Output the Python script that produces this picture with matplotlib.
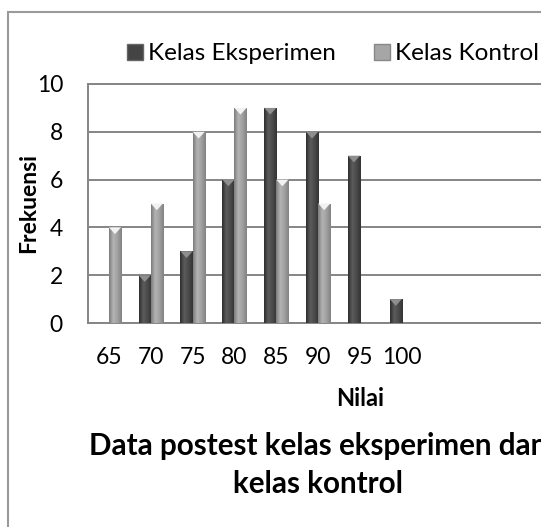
import numpy as np
import matplotlib
matplotlib.use("Agg")
import matplotlib.pyplot as plt
from matplotlib.patches import Rectangle, Polygon, Patch
from matplotlib.colors import LinearSegmentedColormap

plt.rcParams["font.family"] = ["Lato", "DejaVu Sans"]

categories = ["65", "70", "75", "80", "85", "90", "95", "100"]
eksperimen = [0, 2, 3, 6, 9, 8, 7, 1]
kontrol = [4, 5, 8, 9, 6, 5, 0, 0]
y_ticks = [0, 2, 4, 6, 8, 10]

W, H = 541, 527
fig = plt.figure(figsize=(W / 100, H / 100), dpi=100)

# chart area border (cropped on right and bottom)
fig.patches.append(Rectangle((8 / W, -0.1), 1.5, (H - 12) / H + 0.1,
                             transform=fig.transFigure, fill=False,
                             edgecolor="#9a9a9a", linewidth=1.5))

# plot area extends past the right edge of the picture
ax = fig.add_axes([88 / W, (H - 323) / H, (632 - 88) / W, (323 - 84) / H])

x = np.arange(len(categories))
bw = 0.29

cm_eks = LinearSegmentedColormap.from_list("eks", ["#2e2e2e", "#5c5c5c", "#4a4a4a", "#333333"])
cm_kon = LinearSegmentedColormap.from_list("kon", ["#7c7c7c", "#b4b4b4", "#a0a0a0", "#828282"])
grad = np.linspace(0, 1, 64).reshape(1, -1)


def draw_bars(xs, vals, cmap, cap_color):
    for xi, v in zip(xs, vals):
        if v <= 0:
            continue
        x0 = xi - bw / 2
        rect = Rectangle((x0, 0), bw, v, facecolor="none", edgecolor="none")
        ax.add_patch(rect)
        im = ax.imshow(grad, extent=[x0, x0 + bw, 0, v], aspect="auto",
                       cmap=cmap, zorder=3, interpolation="bilinear")
        im.set_clip_path(rect)
        cap = Polygon([[x0, v], [x0 + bw, v], [xi, v - 0.28]], closed=True,
                      facecolor=cap_color, edgecolor="none", zorder=4)
        ax.add_patch(cap)


draw_bars(x - bw / 2, eksperimen, cm_eks, "#8e8e8e")
draw_bars(x + bw / 2, kontrol, cm_kon, "#f2f2f2")

ax.set_xlim(-0.5, 12.5)
ax.set_ylim(0, 10)
ax.set_xticks(x)
ax.set_xticklabels(categories)
ax.set_yticks(y_ticks)
ax.tick_params(axis="both", length=0, labelsize=16.5, colors="black")
ax.tick_params(axis="x", pad=17)
ax.tick_params(axis="y", pad=18)
ax.yaxis.grid(True, color="#858585", linewidth=1.4)
ax.set_axisbelow(True)
for s in ["left", "top", "bottom", "right"]:
    ax.spines[s].set_color("#858585")
    ax.spines[s].set_linewidth(1.4)

handles = [Patch(facecolor="#444444", edgecolor="#666666", label="Kelas Eksperimen"),
           Patch(facecolor="#a6a6a6", edgecolor="#888888", label="Kelas Kontrol")]
fig.legend(handles=handles, loc="center", bbox_to_anchor=(333 / W, 1 - 54 / H),
           ncol=2, frameon=False, fontsize=17.5, handlelength=0.65, handleheight=0.65,
           handletextpad=0.2, columnspacing=1.6)

fig.text(29 / W, 1 - 203 / H, "Frekuensi", rotation=90, ha="center", va="center",
         fontsize=16.5, fontweight="bold")
fig.text(360 / W, 1 - 398 / H, "Nilai", ha="center", va="center",
         fontsize=17, fontweight="bold")
fig.text(318 / W, 1 - 465 / H, "Data postest kelas eksperimen dan\nkelas kontrol",
         ha="center", va="center", fontsize=21.3, fontweight="bold", linespacing=1.42)

fig.savefig("out.png", dpi=100)
